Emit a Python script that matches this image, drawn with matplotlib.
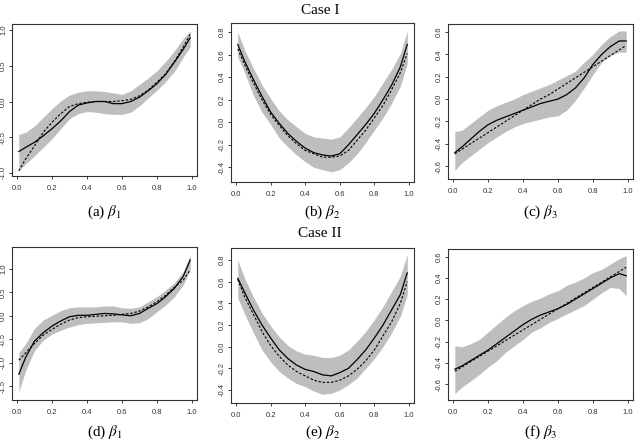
import matplotlib
matplotlib.use("Agg")
import matplotlib.pyplot as plt

plt.rcParams['mathtext.fontset'] = 'stix'
plt.rcParams['font.family'] = ['Liberation Sans', 'DejaVu Sans']

x = [0.01, 0.05, 0.10, 0.15, 0.20, 0.25, 0.30, 0.35, 0.40, 0.45, 0.50,
     0.55, 0.60, 0.65, 0.70, 0.75, 0.80, 0.85, 0.90, 0.95, 0.99]

# Case I
a_est = [-0.70, -0.64, -0.57, -0.48, -0.38, -0.27, -0.14, -0.05, -0.02, 0.00, 0.00,
         -0.03, -0.03, 0.00, 0.06, 0.15, 0.25, 0.38, 0.55, 0.73, 0.89]
a_true = [-0.97, -0.80, -0.62, -0.43, -0.29, -0.17, -0.07, -0.03, -0.01, 0.00, 0.00,
          0.00, 0.01, 0.03, 0.08, 0.16, 0.27, 0.39, 0.56, 0.76, 0.94]
a_up = [-0.46, -0.43, -0.34, -0.22, -0.10, 0.01, 0.09, 0.13, 0.15, 0.15, 0.14,
        0.12, 0.10, 0.15, 0.24, 0.33, 0.43, 0.56, 0.71, 0.88, 0.99]
a_lo = [-0.97, -0.87, -0.76, -0.64, -0.52, -0.38, -0.24, -0.17, -0.14, -0.15, -0.17,
        -0.18, -0.18, -0.15, -0.06, 0.05, 0.16, 0.28, 0.42, 0.62, 0.76]

b_est = [0.69, 0.54, 0.38, 0.23, 0.09, -0.01, -0.10, -0.17, -0.23, -0.27, -0.29,
         -0.30, -0.28, -0.20, -0.11, -0.02, 0.08, 0.20, 0.33, 0.49, 0.69]
b_true = [0.65, 0.51, 0.35, 0.20, 0.07, -0.03, -0.12, -0.19, -0.25, -0.28, -0.31,
          -0.31, -0.30, -0.25, -0.16, -0.07, 0.04, 0.15, 0.29, 0.44, 0.61]
b_up = [0.80, 0.64, 0.48, 0.33, 0.21, 0.10, 0.02, -0.04, -0.10, -0.13, -0.14,
        -0.15, -0.13, -0.05, 0.04, 0.13, 0.23, 0.35, 0.47, 0.61, 0.81]
b_lo = [0.58, 0.44, 0.24, 0.09, -0.02, -0.14, -0.22, -0.29, -0.35, -0.40, -0.42,
        -0.44, -0.42, -0.36, -0.28, -0.18, -0.07, 0.04, 0.17, 0.32, 0.52]

c_est = [-0.48, -0.43, -0.36, -0.29, -0.23, -0.19, -0.16, -0.13, -0.10, -0.07, -0.04,
         -0.02, 0.00, 0.04, 0.10, 0.19, 0.31, 0.40, 0.47, 0.52, 0.52]
c_true = [-0.49, -0.45, -0.40, -0.35, -0.30, -0.25, -0.20, -0.15, -0.10, -0.05, 0.00,
          0.04, 0.09, 0.14, 0.19, 0.24, 0.29, 0.34, 0.39, 0.44, 0.48]
c_up = [-0.29, -0.28, -0.22, -0.16, -0.10, -0.06, -0.03, 0.00, 0.04, 0.07, 0.10,
        0.13, 0.17, 0.21, 0.25, 0.33, 0.40, 0.49, 0.56, 0.61, 0.61]
c_lo = [-0.64, -0.57, -0.51, -0.45, -0.39, -0.34, -0.29, -0.25, -0.22, -0.20, -0.18,
        -0.16, -0.15, -0.10, -0.01, 0.10, 0.22, 0.33, 0.39, 0.42, 0.42]

# Case II
d_est = [-1.25, -0.88, -0.54, -0.36, -0.22, -0.11, -0.02, 0.01, 0.01, 0.03, 0.05,
         0.04, 0.02, 0.00, 0.05, 0.16, 0.26, 0.41, 0.59, 0.84, 1.19]
d_true = [-0.95, -0.79, -0.59, -0.41, -0.29, -0.18, -0.09, -0.04, -0.02, -0.01, 0.00,
          0.01, 0.03, 0.05, 0.10, 0.19, 0.30, 0.44, 0.61, 0.76, 0.98]
d_up = [-0.79, -0.59, -0.27, -0.09, 0.01, 0.11, 0.17, 0.19, 0.19, 0.19, 0.21,
        0.21, 0.17, 0.16, 0.19, 0.30, 0.41, 0.55, 0.71, 0.94, 1.30]
d_lo = [-1.63, -1.16, -0.74, -0.52, -0.39, -0.31, -0.24, -0.19, -0.16, -0.15, -0.14,
        -0.13, -0.13, -0.16, -0.15, -0.06, 0.09, 0.23, 0.41, 0.66, 0.98]

e_est = [0.63, 0.50, 0.34, 0.20, 0.08, -0.03, -0.11, -0.17, -0.21, -0.23, -0.26,
         -0.27, -0.24, -0.20, -0.12, -0.03, 0.08, 0.20, 0.34, 0.48, 0.68]
e_true = [0.62, 0.46, 0.30, 0.14, 0.01, -0.09, -0.17, -0.23, -0.27, -0.31, -0.33,
          -0.33, -0.31, -0.27, -0.21, -0.13, -0.03, 0.10, 0.23, 0.40, 0.60]
e_up = [0.80, 0.63, 0.46, 0.31, 0.19, 0.09, 0.01, -0.04, -0.07, -0.08, -0.10,
        -0.10, -0.08, -0.03, 0.05, 0.14, 0.25, 0.37, 0.51, 0.65, 0.85]
e_lo = [0.45, 0.30, 0.13, -0.03, -0.14, -0.23, -0.29, -0.34, -0.37, -0.41, -0.44,
        -0.43, -0.40, -0.35, -0.29, -0.20, -0.11, 0.00, 0.13, 0.28, 0.48]

f_est = [-0.46, -0.43, -0.38, -0.33, -0.28, -0.22, -0.16, -0.10, -0.04, 0.01, 0.05,
         0.08, 0.11, 0.15, 0.20, 0.25, 0.30, 0.35, 0.40, 0.44, 0.42]
f_true = [-0.48, -0.44, -0.39, -0.34, -0.29, -0.24, -0.19, -0.14, -0.09, -0.04, 0.01,
          0.06, 0.11, 0.16, 0.21, 0.26, 0.31, 0.36, 0.41, 0.46, 0.50]
f_up = [-0.24, -0.25, -0.22, -0.18, -0.11, -0.04, 0.03, 0.09, 0.14, 0.18, 0.21,
        0.25, 0.28, 0.33, 0.36, 0.40, 0.45, 0.48, 0.53, 0.58, 0.61]
f_lo = [-0.69, -0.63, -0.57, -0.51, -0.44, -0.38, -0.30, -0.24, -0.18, -0.11, -0.07,
        -0.02, 0.02, 0.06, 0.10, 0.14, 0.20, 0.26, 0.31, 0.30, 0.23]

x_ticks = [0.0, 0.2, 0.4, 0.6, 0.8, 1.0]
captions = ["(a) $\\beta_1$", "(b) $\\beta_2$", "(c) $\\beta_3$",
            "(d) $\\beta_1$", "(e) $\\beta_2$", "(f) $\\beta_3$"]
case_titles = ["Case I", "Case II"]

panels = [
    (a_est, a_true, a_up, a_lo, [-1.0, -0.5, 0.0, 0.5, 1.0], (-1.042, 1.084), (12, 24, 197, 176)),
    (b_est, b_true, b_up, b_lo, [-0.4, -0.2, 0.0, 0.2, 0.4, 0.6, 0.8], (-0.53, 0.88), (231, 23, 414, 182)),
    (c_est, c_true, c_up, c_lo, [-0.6, -0.4, -0.2, 0.0, 0.2, 0.4, 0.6], (-0.716, 0.672), (448, 24, 633, 179)),
    (d_est, d_true, d_up, d_lo, [-1.5, -1.0, -0.5, 0.0, 0.5, 1.0], (-1.80, 1.47), (12, 247, 197, 400)),
    (e_est, e_true, e_up, e_lo, [-0.4, -0.2, 0.0, 0.2, 0.4, 0.6, 0.8], (-0.52, 0.91), (231, 248, 414, 403)),
    (f_est, f_true, f_up, f_lo, [-0.6, -0.4, -0.2, 0.0, 0.2, 0.4, 0.6], (-0.75, 0.672), (448, 249, 633, 400)),
]

W, H = 637, 440
fig = plt.figure(figsize=(W / 100, H / 100), dpi=100)


def fmt(v):
    return "%.1f" % v


for i, (est, tru, up, lo, yt, ylim, box) in enumerate(panels):
    l, t, r, b = box
    ax = fig.add_axes([l / W, 1 - b / H, (r - l) / W, (b - t) / H])
    ax.fill_between(x, lo, up, color="#bebebe", linewidth=0)
    ax.plot(x, tru, color="black", linestyle=(0, (2.2, 1.6)), linewidth=0.8)
    ax.plot(x, est, color="black", linestyle="-", linewidth=0.9)
    ax.set_xlim(-0.029, 1.029)
    ax.set_ylim(*ylim)
    ax.set_xticks(x_ticks)
    ax.set_xticklabels([fmt(v) for v in x_ticks])
    ax.set_yticks(yt)
    ax.set_yticklabels([fmt(v) for v in yt], rotation=90, va="center")
    ax.tick_params(axis="both", labelsize=5.5, length=2.5, width=0.6,
                   colors="#222222", labelcolor="#333333")
    ax.tick_params(axis="y", pad=1)
    ax.tick_params(axis="x", pad=4)
    for s in ax.spines.values():
        s.set_linewidth(0.8)
        s.set_color("#333333")
    cx = (l + r) / 2
    fig.text(cx / W, 1 - (212 if i < 3 else 432) / H, captions[i],
             ha="center", va="center", fontsize=11, family="Liberation Serif")

fig.text(320 / W, 1 - 10 / H, case_titles[0], ha="center", va="center",
         fontsize=11, family="Liberation Serif")
fig.text(320 / W, 1 - 233 / H, case_titles[1], ha="center", va="center",
         fontsize=11, family="Liberation Serif")

fig.savefig("out.png", dpi=100)
